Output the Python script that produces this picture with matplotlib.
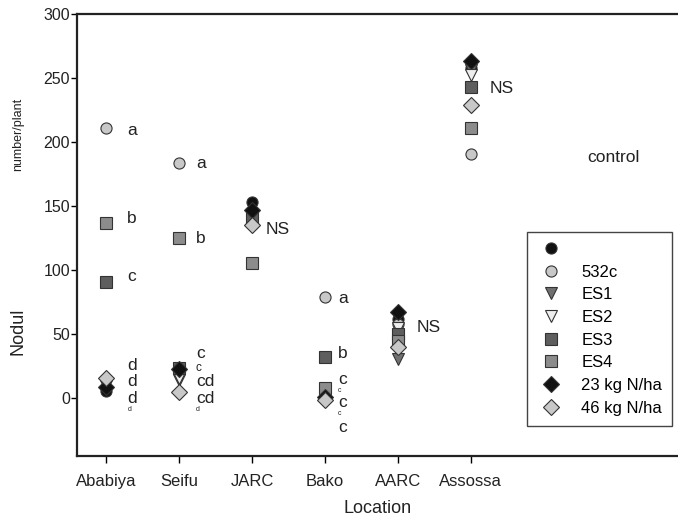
import matplotlib
matplotlib.use('Agg')
import matplotlib.pyplot as plt

plt.rcParams['font.family'] = ['Liberation Sans', 'DejaVu Sans']

# Nodule number per plant at each location
locations = ['Ababiya', 'Seifu', 'JARC', 'Bako', 'AARC', 'Assossa']
control = [6, 22, 153, 2, 62, 258]
c532 = [211, 184, 140, 79, 58, 191]
es1 = [10, 14, 140, 3, 31, 256]
es2 = [12, 16, 142, 4, 55, 252]
es3 = [91, 24, 141, 32, 50, 243]
es4 = [137, 125, 106, 8, 45, 211]
kg23 = [9, 23, 147, 1, 67, 263]
kg46 = [16, 5, 135, -1, 40, 229]

series = [
    (' ', control, 'o', '#111111'),
    ('532c', c532, 'o', '#c8c8c8'),
    ('ES1', es1, 'v', '#707070'),
    ('ES2', es2, 'v', '#eeeeee'),
    ('ES3', es3, 's', '#5e5e5e'),
    ('ES4', es4, 's', '#8c8c8c'),
    ('23 kg N/ha', kg23, 'D', '#111111'),
    ('46 kg N/ha', kg46, 'D', '#c8c8c8'),
]

# significance letters: (location index, value, text, size)
big = 12.5
letters = [
    (0, 209, 'a', big), (0, 140, 'b', big), (0, 95, 'c', big),
    (0, 26, 'd', big), (0, 13, 'd', big), (0, 0, 'd', big), (0, -9, 'd', 5),
    (1, 183, 'a', big), (1, 125, 'b', big), (1, 35, 'c', big),
    (1, 24, 'c', 8.5), (1, 13, 'cd', big), (1, 0, 'cd', big), (1, -9, 'd', 5),
    (2, 132, 'NS', big),
    (3, 78, 'a', big), (3, 35, 'b', big), (3, 15, 'c', big),
    (3, 6, 'c', 5), (3, -3, 'c', big), (3, -12, 'c', 5), (3, -23, 'c', big),
    (4, 55, 'NS', big),
    (5, 242, 'NS', big),
]
letter_dx = [0.29, 0.23, 0.18, 0.18, 0.26, 0.26]

x = list(range(1, len(locations) + 1))

fig = plt.figure(figsize=(6.78, 5.17), dpi=100)
ax = fig.add_axes([0.1136, 0.118, 0.8864, 0.855])

for label, vals, mk, col in series:
    ax.plot(x, vals, linestyle='none', marker=mk, markersize=8,
            markerfacecolor=col, markeredgecolor='#333333',
            markeredgewidth=0.8, label=label)

for i, v, t, fs in letters:
    ax.text(x[i] + letter_dx[i], v, t, fontsize=fs, color='#222222',
            va='center', ha='left')

ax.text(7.59, 188, 'control', fontsize=12.5, color='#222222', va='center')

ax.set_xlim(0.6, 8.84)
ax.set_ylim(-45, 300)
ax.set_xticks(x)
ax.set_xticklabels(locations, fontsize=12, color='#222222')
ax.set_yticks([0, 50, 100, 150, 200, 250, 300])
ax.tick_params(axis='y', labelsize=11.5, labelcolor='#222222', length=4,
               width=1, direction='out', pad=1)
ax.tick_params(axis='x', length=5, width=1, direction='out', pad=8)

for s in ['left', 'top', 'bottom']:
    ax.spines[s].set_linewidth(1.6)
    ax.spines[s].set_color('#222222')
ax.spines['right'].set_visible(False)

ax.set_xlabel('Location', fontsize=13, color='#222222', labelpad=8)
fig.text(0.027, 0.36, 'Nodul', rotation=90, fontsize=13, color='#222222',
         ha='center', va='center')
fig.text(0.027, 0.74, 'number/plant', rotation=90, fontsize=9,
         color='#222222', ha='center', va='center')

leg = ax.legend(loc='upper left', bbox_to_anchor=(0.749, 0.507), fontsize=12,
                frameon=True, fancybox=False, edgecolor='#444444',
                framealpha=1, labelspacing=0.46, handletextpad=1.0,
                borderpad=0.6, handlelength=1.65, borderaxespad=0)
leg.get_frame().set_linewidth(1.0)

fig.savefig('out.png', dpi=100)
